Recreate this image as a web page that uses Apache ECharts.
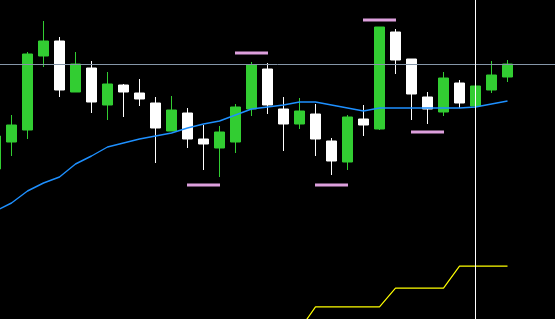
<!DOCTYPE html>
<html>
<head>
<meta charset="utf-8">
<script src="https://cdn.jsdelivr.net/npm/echarts@6/dist/echarts.min.js"></script>
<style>html,body{margin:0;padding:0;background:#000;}#c{width:555px;height:319px;}</style>
</head>
<body>
<div id="c"></div>
<script>
// bar labels (hourly bars), 36 slots: 33 bars + empty space on the right
const categories = [];
for (let i = 0; i < 36; i++) categories.push(String(i).padStart(2, '0') + ':00');

const opens  = [1.2831,1.2858,1.2870,1.2944,1.2959,1.2908,1.2932,1.2895,1.2915,1.2907,1.2897,1.2869,1.2887,1.2861,1.2852,1.2858,1.2891,1.2931,1.2891,1.2876,1.2886,1.2859,1.2838,1.2881,1.2871,1.2968,1.2941,1.2903,1.2888,1.2917,1.2894,1.2910,1.2923];
const closes = [1.2864,1.2875,1.2946,1.2959,1.2910,1.2936,1.2898,1.2916,1.2908,1.2901,1.2872,1.2890,1.2861,1.2856,1.2868,1.2893,1.2935,1.2895,1.2876,1.2889,1.2861,1.2839,1.2883,1.2875,1.2973,1.2940,1.2906,1.2891,1.2922,1.2897,1.2914,1.2925,1.2936];
const lows   = [1.2828,1.2844,1.2861,1.2933,1.2903,1.2908,1.2887,1.2880,1.2883,1.2894,1.2837,1.2869,1.2852,1.2830,1.2823,1.2847,1.2884,1.2886,1.2849,1.2871,1.2844,1.2825,1.2830,1.2864,1.2870,1.2926,1.2880,1.2876,1.2884,1.2892,1.2894,1.2907,1.2918];
const highs  = [1.2867,1.2885,1.2948,1.2979,1.2963,1.2948,1.2939,1.2928,1.2916,1.2921,1.2903,1.2904,1.2892,1.2875,1.2874,1.2896,1.2938,1.2937,1.2903,1.2902,1.2896,1.2862,1.2885,1.2895,1.2973,1.2971,1.2941,1.2908,1.2928,1.2920,1.2914,1.2939,1.2940];
const maValues = [1.2789,1.2797,1.2809,1.2817,1.2823,1.2836,1.2844,1.2853,1.2857,1.2861,1.2864,1.2867,1.2872,1.2876,1.2879,1.2885,1.2891,1.2893,1.2895,1.2898,1.2898,1.2895,1.2892,1.2889,1.2892,1.2892,1.2892,1.2892,1.2892,1.2892,1.2893,1.2896,1.2899];
// fractal-style level marks: [bar index, price]
const levelMarks = [[13,1.2815],[16,1.2947],[21,1.2815],[24,1.2980],[27,1.2868]];
// lower indicator (step line)
const indicator = [null,null,null,null,null,null,null,null,null,null,null,null,null,null,null,null,null,null,null,30,53,53,53,53,53,72,72,72,72,94,94,94,94];
const hLinePrice = 1.29355;
const vLineIndex = 30;

const candleData = opens.map((o, i) => [o, closes[i], lows[i], highs[i]]);

const chart = echarts.init(document.getElementById('c'), null, {renderer: 'canvas'});
chart.setOption({
  backgroundColor: '#000000',
  animation: false,
  grid: [
    {left: -12.5, right: -8.5, top: 0, bottom: 0, outerBoundsMode: 'none', containLabel: false},
    {left: -12.5, right: -8.5, top: 230.5, bottom: -40.5, outerBoundsMode: 'none', containLabel: false}
  ],
  xAxis: [
    {type: 'category', data: categories, gridIndex: 0, boundaryGap: true, show: false},
    {type: 'category', data: categories, gridIndex: 1, boundaryGap: true, show: false}
  ],
  yAxis: [
    {type: 'value', gridIndex: 0, min: 1.2681, max: 1.3000, show: false, splitLine: {show: false}},
    {type: 'value', gridIndex: 1, min: 0, max: 130, show: false, splitLine: {show: false}}
  ],
  series: [
    {
      type: 'candlestick',
      xAxisIndex: 0, yAxisIndex: 0,
      data: candleData,
      barWidth: 10,
      itemStyle: {
        color: '#32cd32', borderColor: '#32cd32',
        color0: '#ffffff', borderColor0: '#ffffff',
        borderWidth: 1
      },
      markLine: {
        silent: true,
        precision: 5,
        symbol: ['none', 'none'],
        label: {show: false},
        data: [
          {yAxis: hLinePrice, lineStyle: {color: '#8596a8', width: 1, type: 'solid'}},
          {xAxis: vLineIndex, lineStyle: {color: '#ffffff', width: 1, type: 'solid'}}
        ]
      }
    },
    {
      type: 'line',
      xAxisIndex: 0, yAxisIndex: 0,
      data: maValues,
      symbol: 'none',
      lineStyle: {color: '#1e90ff', width: 1.4}
    },
    {
      type: 'scatter',
      xAxisIndex: 0, yAxisIndex: 0,
      data: levelMarks,
      symbol: 'rect',
      symbolSize: [33, 3],
      itemStyle: {color: '#dda0dd', opacity: 1}
    },
    {
      type: 'line',
      xAxisIndex: 1, yAxisIndex: 1,
      data: indicator,
      symbol: 'none',
      lineStyle: {color: '#ffff00', width: 1.2}
    }
  ]
});
</script>
</body>
</html>
